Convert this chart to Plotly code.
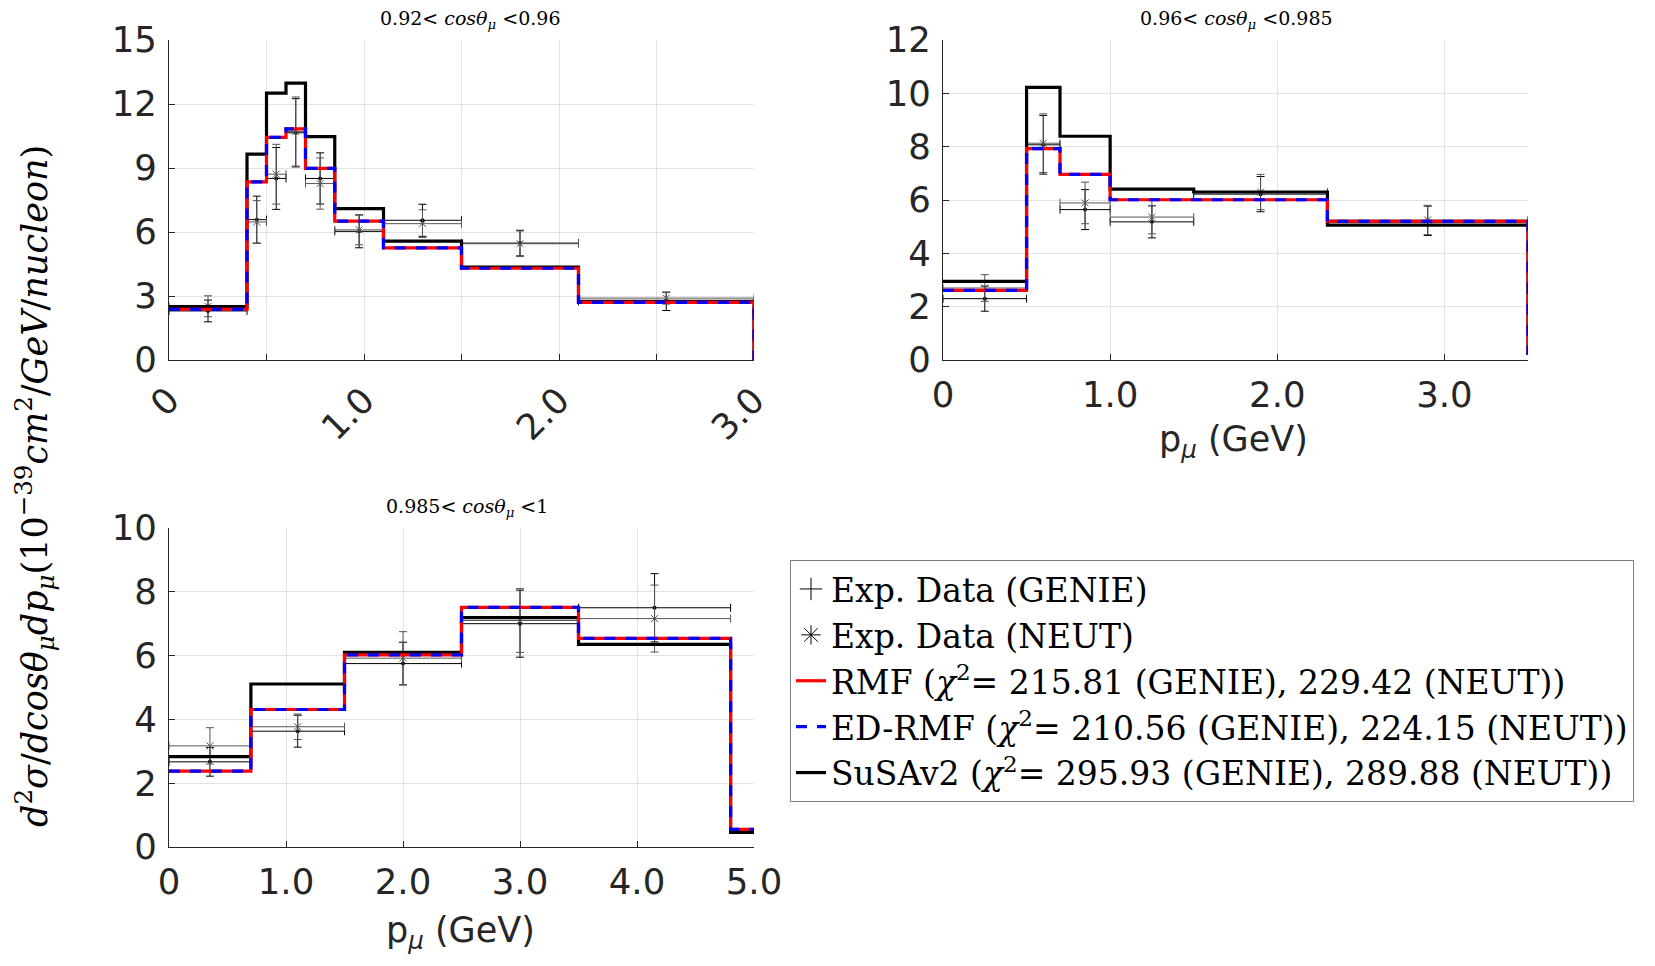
import plotly.graph_objects as go

# ---------------- data ----------------
# Panel 1: 0.92 < cos(theta) < 0.96
p1_edges = [0, 0.4, 0.5, 0.6, 0.7, 0.85, 1.1, 1.5, 2.1, 3.0, 30.0]
p1_rmf = [2.37, 8.35, 10.44, 10.83, 8.98, 6.51, 5.26, 4.30, 2.70, 0.03]
p1_edrmf = [2.37, 8.35, 10.44, 10.83, 8.98, 6.51, 5.26, 4.30, 2.70, 0.03]
p1_susa = [2.50, 9.65, 12.51, 12.98, 10.47, 7.10, 5.57, 4.36, 2.75, 0.03]
p1_genie = [2.30, 6.58, 8.51, 10.65, 8.51, 6.03, 6.55, 5.48, 2.75]
p1_genie_err = [0.51, 1.10, 1.45, 1.60, 1.20, 0.77, 0.75, 0.60, 0.43]
p1_neut = [2.52, 6.47, 8.71, 10.71, 8.27, 6.10, 6.39, 5.45, 2.90]
p1_neut_err = [0.49, 1.00, 1.40, 1.62, 1.20, 0.70, 0.65, 0.60, 0.28]

# Panel 2: 0.96 < cos(theta) < 0.985
p2_edges = [0, 0.5, 0.7, 1.0, 1.5, 2.3, 3.5, 30.0]
p2_rmf = [2.61, 7.93, 6.96, 6.01, 6.01, 5.20, 0.26]
p2_edrmf = [2.61, 7.93, 6.96, 6.01, 6.01, 5.20, 0.26]
p2_susa = [2.95, 10.22, 8.39, 6.41, 6.30, 5.06, 0.26]
p2_genie = [2.30, 8.07, 5.64, 5.18, 6.22, 5.22]
p2_genie_err = [0.47, 1.10, 0.75, 0.60, 0.66, 0.55]
p2_neut = [2.70, 8.13, 5.89, 5.36, 6.30, 5.25]
p2_neut_err = [0.50, 1.10, 0.78, 0.63, 0.66, 0.55]

# Panel 3: 0.985 < cos(theta) < 1
p3_edges = [0, 0.7, 1.5, 2.5, 3.5, 4.8, 30.0]
p3_rmf = [2.38, 4.31, 6.02, 7.51, 6.54, 0.55]
p3_edrmf = [2.38, 4.31, 6.02, 7.51, 6.54, 0.55]
p3_susa = [2.83, 5.11, 6.10, 7.19, 6.35, 0.46]
p3_genie = [2.67, 3.63, 5.75, 7.00, 7.50]
p3_genie_err = [0.45, 0.50, 0.67, 1.05, 1.07]
p3_neut = [3.17, 3.77, 5.92, 7.10, 7.16]
p3_neut_err = [0.57, 0.40, 0.83, 1.00, 1.05]

titles = ["0.92< <i>cosθ</i><sub><i>μ</i></sub> <0.96",
          "0.96< <i>cosθ</i><sub><i>μ</i></sub> <0.985",
          "0.985< <i>cosθ</i><sub><i>μ</i></sub> <1"]
legend_names = ["Exp. Data (GENIE)", "Exp. Data (NEUT)",
                "RMF (<i>χ</i><sup>2</sup>= 215.81 (GENIE), 229.42 (NEUT))",
                "ED-RMF (<i>χ</i><sup>2</sup>= 210.56 (GENIE), 224.15 (NEUT))",
                "SuSAv2 (<i>χ</i><sup>2</sup>= 295.93 (GENIE), 289.88 (NEUT))"]

panels = [
    (p1_edges, p1_rmf, p1_edrmf, p1_susa, p1_genie, p1_genie_err, p1_neut, p1_neut_err),
    (p2_edges, p2_rmf, p2_edrmf, p2_susa, p2_genie, p2_genie_err, p2_neut, p2_neut_err),
    (p3_edges, p3_rmf, p3_edrmf, p3_susa, p3_genie, p3_genie_err, p3_neut, p3_neut_err),
]

W, H = 1655, 966
fig = go.Figure()

# legend-only entries that mimic the error-bar icons of the data sets
fig.add_trace(go.Scatter(
    x=[None], y=[None], mode="markers", name=legend_names[0], legendgroup="g",
    legendrank=1, showlegend=True,
    marker=dict(symbol="cross-thin", size=18, color="black",
                line=dict(width=1, color="black"))))
fig.add_trace(go.Scatter(
    x=[None], y=[None], mode="markers", name=legend_names[1], legendgroup="n",
    legendrank=2, showlegend=True,
    marker=dict(symbol="asterisk", size=18, color="black",
                line=dict(width=1, color="black"))))

for i, (edges, rmf, edrmf, susa, gen, gen_e, neu, neu_e) in enumerate(panels):
    ax = "" if i == 0 else str(i + 1)
    xa, ya = "x" + ax, "y" + ax
    n = len(gen)
    cx = [(edges[k] + edges[k + 1]) / 2 for k in range(n)]
    hx = [(edges[k + 1] - edges[k]) / 2 for k in range(n)]
    show = i == 0
    fig.add_trace(go.Scatter(
        x=cx, y=gen, mode="markers", name=legend_names[0], legendgroup="g",
        showlegend=False, xaxis=xa, yaxis=ya,
        marker=dict(symbol="circle", size=4, color="black"),
        error_y=dict(type="data", array=gen_e, color="black", thickness=1, width=4),
        error_x=dict(type="data", array=hx, color="black", thickness=1, width=4)))
    fig.add_trace(go.Scatter(
        x=cx, y=neu, mode="markers", name=legend_names[1], legendgroup="n",
        showlegend=False, xaxis=xa, yaxis=ya,
        marker=dict(symbol="x-thin", size=7, color="#555555",
                    line=dict(width=1, color="#555555")),
        error_y=dict(type="data", array=neu_e, color="#555555", thickness=1, width=4),
        error_x=dict(type="data", array=hx, color="#555555", thickness=1, width=4)))
    # draw SuSAv2 first so the dashed RMF/ED-RMF lie on top of it
    for vals, name, grp, rank, style in [
        (susa, legend_names[4], "s", 5, dict(color="black", width=3.2)),
        (rmf, legend_names[2], "r", 3, dict(color="red", width=3.2)),
        (edrmf, legend_names[3], "e", 4, dict(color="blue", width=3.2, dash="11px,10px")),
    ]:
        fig.add_trace(go.Scatter(
            x=edges, y=list(vals) + [vals[-1]], mode="lines", line_shape="hv",
            name=name, legendgroup=grp, legendrank=rank, showlegend=show,
            xaxis=xa, yaxis=ya, line=style))

# ---------------- layout ----------------
def px_x(v):
    return v / W

def px_y(v):
    return 1 - v / H

tickfont = dict(family="DejaVu Sans", size=35.5, color="#262626")
common = dict(showgrid=True, gridcolor="#e3e3e3", gridwidth=1, zeroline=False,
              showline=True, linecolor="#262626", linewidth=1, ticks="inside",
              ticklen=6, tickcolor="#262626", tickfont=tickfont, automargin=False)

fig.update_layout(
    width=W, height=H, margin=dict(l=0, r=0, t=0, b=0, autoexpand=False),
    paper_bgcolor="white", plot_bgcolor="white",
    xaxis=dict(common, domain=[px_x(169), px_x(754)], range=[0, 3.0], anchor="y",
               tickvals=[0, 0.5, 1.0, 1.5, 2.0, 2.5, 3.0],
               ticktext=["0", "", "1.0", "", "2.0", "", "3.0"], tickangle=-45,
               ticklabelstandoff=4),
    yaxis=dict(common, domain=[px_y(360), px_y(40)], range=[0, 15], anchor="x",
               tickvals=[0, 3, 6, 9, 12, 15], ticklabelstandoff=4),
    xaxis2=dict(common, domain=[px_x(943), px_x(1528)], range=[0, 3.5], anchor="y2",
                tickvals=[0, 1, 2, 3], ticktext=["0", "1.0", "2.0", "3.0"],
                ticklabelstandoff=3),
    yaxis2=dict(common, domain=[px_y(360), px_y(40)], range=[0, 12], anchor="x2",
                tickvals=[0, 2, 4, 6, 8, 10, 12], ticklabelstandoff=4),
    xaxis3=dict(common, domain=[px_x(169), px_x(754)], range=[0, 5.0], anchor="y3",
                tickvals=[0, 1, 2, 3, 4, 5], ticktext=["0", "1.0", "2.0", "3.0", "4.0", "5.0"],
                ticklabelstandoff=3),
    yaxis3=dict(common, domain=[px_y(847), px_y(528)], range=[0, 10], anchor="x3",
                tickvals=[0, 2, 4, 6, 8, 10], ticklabelstandoff=4),
    legend=dict(x=px_x(790), y=px_y(560), xanchor="left", yanchor="top",
                font=dict(family="DejaVu Serif", size=33, color="black"),
                bgcolor="white", bordercolor="#7f7f7f", borderwidth=1,
                tracegroupgap=0, traceorder="normal"),
    showlegend=True,
)

serif = "DejaVu Serif"
ann = [
    dict(text=titles[0], x=px_x(470), y=px_y(19), font=dict(family=serif, size=19, color="black")),
    dict(text=titles[1], x=px_x(1236), y=px_y(19), font=dict(family=serif, size=19, color="black")),
    dict(text=titles[2], x=px_x(467), y=px_y(507), font=dict(family=serif, size=19, color="black")),
    dict(text="p<sub><i>μ</i></sub> (GeV)", x=px_x(1233), y=px_y(442),
         font=dict(family="DejaVu Sans", size=35, color="#262626")),
    dict(text="p<sub><i>μ</i></sub> (GeV)", x=px_x(460), y=px_y(932),
         font=dict(family="DejaVu Sans", size=35, color="#262626")),
    dict(text="<i>d</i><sup>2</sup><i>σ</i>/<i>dcosθ</i><sub><i>μ</i></sub><i>dp</i><sub><i>μ</i></sub>"
              "(10<sup>−39</sup><i>cm</i><sup>2</sup>/<i>GeV</i>/<i>nucleon</i>)",
         x=px_x(35), y=px_y(486), textangle=-90,
         font=dict(family=serif, size=35, color="black")),
]
for a in ann:
    a.update(xref="paper", yref="paper", showarrow=False, xanchor="center", yanchor="middle")
fig.update_layout(annotations=ann)

fig.write_html("out.html", config={"displayModeBar": False},
               post_script="document.body.style.margin='0px';document.body.style.overflow='hidden';")
